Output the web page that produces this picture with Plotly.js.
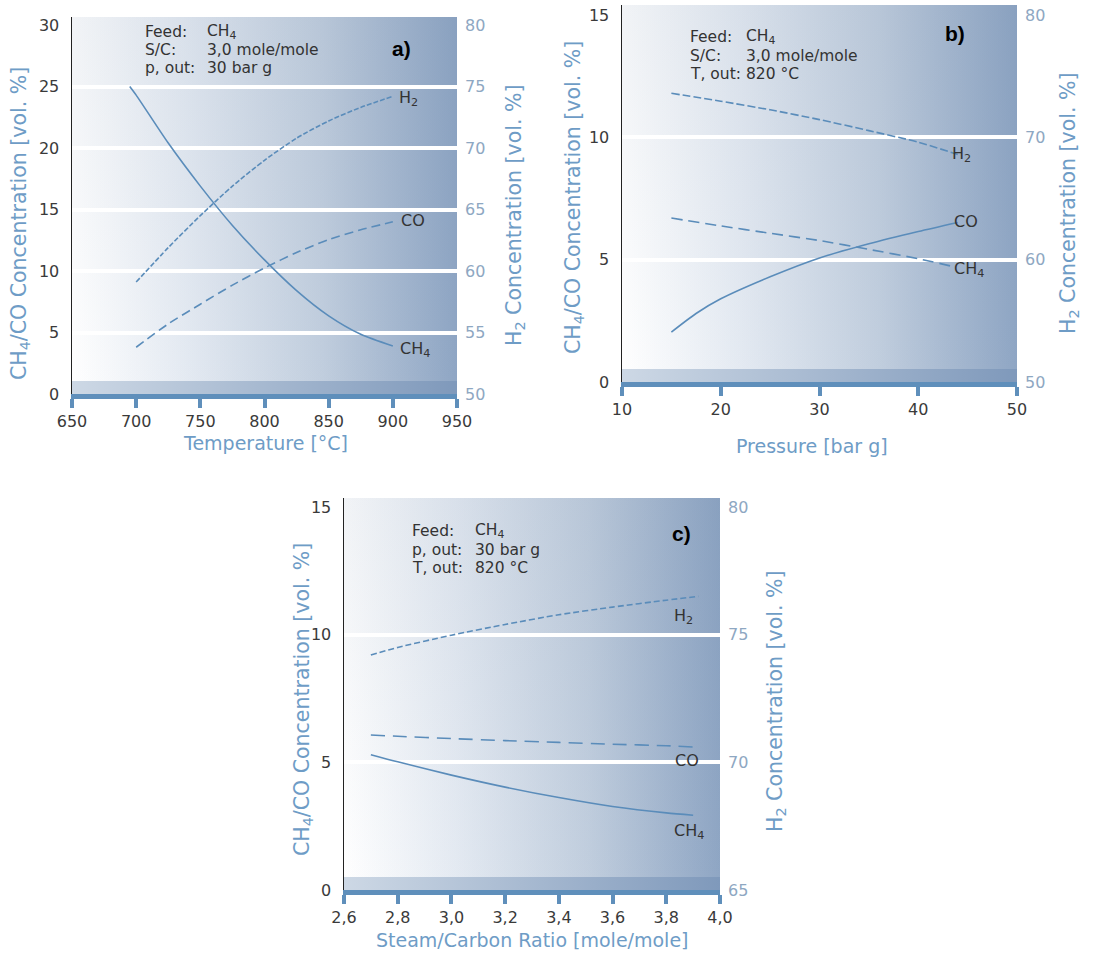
<!DOCTYPE html>
<html><head><meta charset="utf-8">
<script src="https://cdn.plot.ly/plotly-3.0.1.min.js"></script>
<style>html,body{margin:0;padding:0;background:#fff}#chart{width:1100px;height:960px}</style>
</head><body><div id="chart"></div>
<script>
// ---------- data ----------
// Panel a: temperature
const tempCH4A = [695, 700, 725, 750, 775, 800, 825, 850, 875, 900];
const ch4A = [25.0, 24.3, 20.4, 16.9, 13.7, 10.9, 8.4, 6.35, 4.85, 3.9];
const tempA = [700, 725, 750, 775, 800, 825, 850, 875, 900];
const coA = [3.8, 5.7, 7.3, 8.85, 10.25, 11.5, 12.55, 13.35, 14.0];
const h2A = [59.1, 61.9, 64.5, 66.9, 69.0, 70.8, 72.2, 73.3, 74.2];
const xTicksA = [650, 700, 750, 800, 850, 900, 950];

// Panel b: pressure
const pressB = [15, 20, 25, 30, 35, 40, 44];
const h2B = [73.6, 72.95, 72.25, 71.45, 70.55, 69.6, 68.6];
const pressCH4B = [15, 20, 25, 30, 35, 40, 43.5];
const ch4B = [6.70, 6.38, 6.08, 5.78, 5.42, 5.04, 4.72];
const pressCOB = [15, 17.5, 20, 25, 30, 35, 40, 44];
const coB = [2.04, 2.8, 3.4, 4.3, 5.07, 5.65, 6.15, 6.52];
const xTicksB = [10, 20, 30, 40, 50];

// Panel c: steam/carbon ratio
const scH2C = [2.7, 2.8, 3.0, 3.2, 3.4, 3.6, 3.8, 3.92];
const h2C = [74.2, 74.5, 74.98, 75.4, 75.78, 76.08, 76.35, 76.5];
const scC = [2.7, 2.8, 3.0, 3.2, 3.4, 3.6, 3.8, 3.9];
const ch4C = [5.3, 5.02, 4.5, 4.03, 3.62, 3.27, 3.02, 2.93];
const coC = [6.07, 6.02, 5.93, 5.85, 5.78, 5.71, 5.65, 5.6];
const xTicksC = [2.6, 2.8, 3.0, 3.2, 3.4, 3.6, 3.8, 4.0];
const xTickTextC = ['2,6', '2,8', '3,0', '3,2', '3,4', '3,6', '3,8', '4,0'];

// ---------- styling ----------
const W = 1100, H = 960;
const FONT = 'DejaVu Sans, Liberation Sans, Arial, sans-serif';
const LINE = '#5a8cba';
const AXBLUE = '#5f8fbb';
const TITLEC = '#6e9cc6';
const RTICK = '#8ea7c2';
const DARK = '#3a3a3a';

// pixel boxes for each panel (left, right, top, bottom)
const boxes = {
  a: {l: 72, r: 457, t: 17, b: 394},
  b: {l: 622, r: 1017, t: 5, b: 382},
  c: {l: 344, r: 720, t: 498, b: 890}
};
function dom(bx) {
  return {x: [bx.l / W, bx.r / W], y: [1 - bx.b / H, 1 - bx.t / H]};
}
const dA = dom(boxes.a), dB = dom(boxes.b), dC = dom(boxes.c);

function bgImage(w, h) {
  const c = document.createElement('canvas'); c.width = w; c.height = h;
  const g = c.getContext('2d');
  const lg = g.createLinearGradient(0, 0, w, 0);
  lg.addColorStop(0, '#ffffff');
  lg.addColorStop(0.3, '#e4eaf2');
  lg.addColorStop(0.65, '#c1cede');
  lg.addColorStop(1, '#8fa6c4');
  g.fillStyle = lg; g.fillRect(0, 0, w, h);
  const vg = g.createLinearGradient(0, 0, 0, h);
  vg.addColorStop(0, 'rgba(60,90,130,0.07)');
  vg.addColorStop(1, 'rgba(60,90,130,0)');
  g.fillStyle = vg; g.fillRect(0, 0, w, h);
  const sg = g.createLinearGradient(0, 0, w, 0);
  sg.addColorStop(0, '#cdd8e5');
  sg.addColorStop(1, '#7f99bb');
  g.fillStyle = sg; g.fillRect(0, h - 13, w, 13);
  return c.toDataURL();
}
function imgFor(bx, d) {
  return {source: bgImage(bx.r - bx.l, bx.b - bx.t), xref: 'paper', yref: 'paper',
    x: d.x[0], y: d.y[1], sizex: d.x[1] - d.x[0], sizey: d.y[1] - d.y[0],
    xanchor: 'left', yanchor: 'top', sizing: 'stretch', layer: 'below'};
}

function xAxis(d, range, tickvals, ticktext, anchor) {
  const ax = {domain: d.x, range: range, anchor: anchor, showgrid: false, zeroline: false,
    showline: true, linewidth: 5, linecolor: AXBLUE, ticks: 'outside', ticklen: 9, tickwidth: 4,
    tickcolor: AXBLUE, tickvals: tickvals, tickfont: {family: FONT, size: 16, color: DARK},
    fixedrange: true};
  if (ticktext) ax.ticktext = ticktext;
  return ax;
}
function yLeft(d, range, dtick, anchor) {
  return {domain: d.y, range: range, anchor: anchor, dtick: dtick, tick0: 0, showgrid: false,
    zeroline: false, showline: true, linewidth: 1.5, linecolor: '#222', ticks: '',
    ticklabelstandoff: 8, tickfont: {family: FONT, size: 16, color: DARK}};
}
function yRight(range, dtick, tick0, overl, anchor) {
  return {range: range, overlaying: overl, anchor: anchor, side: 'right', dtick: dtick, tick0: tick0,
    showgrid: false, zeroline: false, showline: false, ticks: '', ticklabelstandoff: 7,
    tickfont: {family: FONT, size: 16, color: RTICK}};
}
function yGrid(range, vals, overl, anchor) {
  return {range: range, overlaying: overl, anchor: anchor, tickvals: vals, showticklabels: false,
    ticks: '', showgrid: true, gridcolor: '#ffffff', gridwidth: 4, zeroline: false, showline: false};
}

const rA = [0, (boxes.a.b - boxes.a.t) / ((boxes.a.b - 25) / 30)];
const rB = [0, (boxes.b.b - boxes.b.t) / ((boxes.b.b - 15) / 15)];
const rC = [0, (boxes.c.b - boxes.c.t) / ((boxes.c.b - 507) / 15)];

const traces = [];
function ln(x, y, xa, ya, dash) {
  traces.push({x: x, y: y, xaxis: xa, yaxis: ya, type: 'scatter', mode: 'lines',
    line: {color: LINE, width: 1.6, dash: dash, shape: 'spline', smoothing: 0.7},
    showlegend: false, hoverinfo: 'skip'});
}
// a
ln(tempCH4A, ch4A, 'x', 'y', 'solid');
ln(tempA, coA, 'x', 'y', '9px,5px');
ln(tempA, h2A, 'x', 'y2', '5px,2px');
traces.push({x: [null], y: [null], xaxis: 'x', yaxis: 'y3', showlegend: false, hoverinfo: 'skip', mode: 'lines'});
// b
ln(pressCOB, coB, 'x2', 'y4', 'solid');
ln(pressCH4B, ch4B, 'x2', 'y4', '11px,6px');
ln(pressB, h2B, 'x2', 'y5', '8px,3px');
traces.push({x: [null], y: [null], xaxis: 'x2', yaxis: 'y6', showlegend: false, hoverinfo: 'skip', mode: 'lines'});
// c
ln(scC, ch4C, 'x3', 'y7', 'solid');
ln(scC, coC, 'x3', 'y7', '14px,8px');
ln(scH2C, h2C, 'x3', 'y8', '6px,3px');
traces.push({x: [null], y: [null], xaxis: 'x3', yaxis: 'y9', showlegend: false, hoverinfo: 'skip', mode: 'lines'});

// ---------- annotations ----------
const ann = [];
function px2x(p) { return p / W; }
function px2y(p) { return 1 - p / H; }
function ptxt(text, xp, yp, opts) {
  ann.push(Object.assign({text: text, xref: 'paper', yref: 'paper', x: px2x(xp), y: px2y(yp),
    showarrow: false, xanchor: 'left', yanchor: 'middle', align: 'left',
    font: {family: FONT, size: 15.5, color: '#333'}}, opts || {}));
}
// condition blocks
function cond(labels, values, xl, xv, rows) {
  for (let i = 0; i < 3; i++) {
    ptxt(labels[i], xl, rows[i]);
    ptxt(values[i], xv, rows[i]);
  }
}
cond(['Feed:', 'S/C:', 'p, out:'], ['CH<sub>4</sub>', '3,0 mole/mole', '30 bar g'], 143, 205, [32, 50, 68]);
cond(['Feed:', 'S/C:', 'T, out:'], ['CH<sub>4</sub>', '3,0 mole/mole', '820 °C'], 688, 744, [37, 56, 74]);
cond(['Feed:', 'p, out:', 'T, out:'], ['CH<sub>4</sub>', '30 bar g', '820 °C'], 410, 473, [531, 550, 568]);
// panel letters
const LET = {family: 'Liberation Sans, Arial, sans-serif', size: 21, color: '#000', weight: 'bold'};
ptxt('<b>a)</b>', 390, 48, {font: LET});
ptxt('<b>b)</b>', 943, 33, {font: LET});
ptxt('<b>c)</b>', 670, 533, {font: LET});
// series labels (data coords)
function slab(text, x, y, xa, ya) {
  ann.push({text: text, x: x, y: y, xref: xa, yref: ya, showarrow: false, xanchor: 'left',
    yanchor: 'middle', font: {family: FONT, size: 16, color: '#333'}});
}
slab('H<sub>2</sub>', 903, 74.0, 'x', 'y2');
slab('CO', 905, 14.1, 'x', 'y');
slab('CH<sub>4</sub>', 904, 3.6, 'x', 'y');
slab('H<sub>2</sub>', 43.2, 68.6, 'x2', 'y5');
slab('CO', 43.4, 6.56, 'x2', 'y4');
slab('CH<sub>4</sub>', 43.4, 4.6, 'x2', 'y4');
slab('H<sub>2</sub>', 3.82, 75.7, 'x3', 'y8');
slab('CO', 3.825, 5.09, 'x3', 'y7');
slab('CH<sub>4</sub>', 3.82, 2.3, 'x3', 'y7');
// axis titles
const TFV = {family: FONT, size: 20.5, color: TITLEC};
const TFH = {family: FONT, size: 19, color: TITLEC};
function vt(text, xp, yp) {
  ann.push({text: text, xref: 'paper', yref: 'paper', x: px2x(xp), y: px2y(yp), showarrow: false,
    textangle: -90, xanchor: 'center', yanchor: 'middle', font: TFV});
}
function ht(text, xp, yp) {
  ann.push({text: text, xref: 'paper', yref: 'paper', x: px2x(xp), y: px2y(yp), showarrow: false,
    xanchor: 'center', yanchor: 'middle', font: TFH});
}
vt('CH<sub>4</sub>/CO Concentration [vol. %]', 20, 224);
vt('H<sub>2</sub> Concentration [vol. %]', 515, 215);
ht('Temperature [°C]', 265, 443);
vt('CH<sub>4</sub>/CO Concentration [vol. %]', 574, 198);
vt('H<sub>2</sub> Concentration [vol. %]', 1069, 203);
ht('Pressure [bar g]', 812, 446);
vt('CH<sub>4</sub>/CO Concentration [vol. %]', 303, 700);
vt('H<sub>2</sub> Concentration [vol. %]', 776, 701);
ht('Steam/Carbon Ratio [mole/mole]', 532, 940);

const layout = {
  width: W, height: H, margin: {l: 0, r: 0, t: 0, b: 0},
  paper_bgcolor: '#ffffff', plot_bgcolor: 'rgba(0,0,0,0)', showlegend: false,
  images: [imgFor(boxes.a, dA), imgFor(boxes.b, dB), imgFor(boxes.c, dC)],
  xaxis: xAxis(dA, [650, 950], xTicksA, null, 'y'),
  yaxis: yLeft(dA, rA, 5, 'x'),
  yaxis2: yRight([50, 50 + rA[1]], 5, 50, 'y', 'x'),
  yaxis3: yGrid(rA, [5, 10, 15, 20, 25], 'y', 'x'),
  xaxis2: xAxis(dB, [10, 50], xTicksB, null, 'y4'),
  yaxis4: yLeft(dB, rB, 5, 'x2'),
  yaxis5: yRight([50, 50 + 2 * rB[1]], 10, 50, 'y4', 'x2'),
  yaxis6: yGrid(rB, [5, 10], 'y4', 'x2'),
  xaxis3: xAxis(dC, [2.6, 4.0], xTicksC, xTickTextC, 'y7'),
  yaxis7: yLeft(dC, rC, 5, 'x3'),
  yaxis8: yRight([65, 65 + rC[1]], 5, 65, 'y7', 'x3'),
  yaxis9: yGrid(rC, [5, 10], 'y7', 'x3'),
  annotations: ann
};
Plotly.newPlot('chart', traces, layout, {staticPlot: true, displayModeBar: false});
</script>
</body></html>
